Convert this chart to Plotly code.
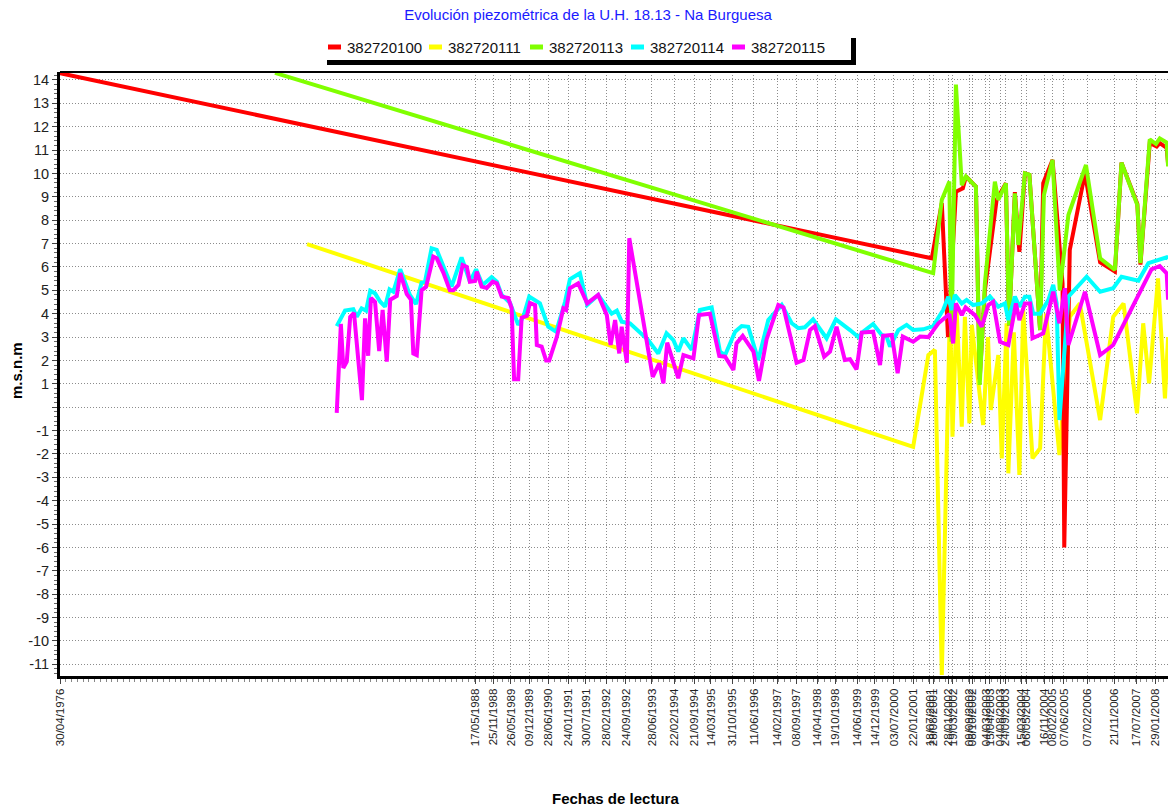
import pandas as pd
import plotly.graph_objects as go

# Niveles piezométricos (m.s.n.m); fechas en años decimales
t_100 = [1976.33, 2001.60, 2001.89, 2002.07, 2002.30, 2002.50, 2002.59, 2002.88, 2002.99,
         2003.14, 2003.48, 2003.75, 2003.84, 2004.01, 2004.14, 2004.30, 2004.43, 2004.74,
         2004.83, 2005.10, 2005.39, 2005.44, 2005.60, 2006.04, 2006.48, 2006.91, 2007.10,
         2007.56, 2007.65, 2007.92, 2008.12, 2008.21, 2008.41, 2008.45]
v_100 = [14.29, 6.37, 8.73, 3.0, 9.22, 9.36, 9.87, 9.44, 1.2,
         5.0, 8.87, 9.58, 3.5, 9.2, 6.65, 10.0, 9.94, 3.3,
         9.58, 10.58, 5.3, -6.0, 6.73, 10.0, 6.2, 5.8, 10.46,
         8.7, 6.1, 11.3, 11.15, 11.3, 11.1, 10.4]

t_111 = [1983.49, 2001.06, 2001.50, 2001.69, 2001.89, 2002.13, 2002.20, 2002.32, 2002.47,
         2002.56, 2002.69, 2002.76, 2003.09, 2003.23, 2003.31, 2003.53, 2003.63, 2003.77,
         2003.82, 2003.98, 2004.14, 2004.25, 2004.52, 2004.74, 2004.91, 2005.30, 2005.60,
         2005.89, 2006.48, 2006.86, 2007.16, 2007.55, 2007.73, 2007.90, 2008.16, 2008.36,
         2008.45]
v_111 = [6.98, -1.7, 2.23, 2.45, -11.46, 4.44, -1.26, 4.16, -0.83,
         3.87, -0.69, 3.52, -0.76, 3.0, -0.12, 2.23, -2.19, 3.59,
         -2.83, 3.2, -2.9, 4.16, -2.19, -1.76, 4.0, -2.05, 3.87,
         4.44, -0.55, 3.87, 4.44, -0.26, 3.59, 1.02, 5.51, 0.38,
         3.0]

t_113 = [1982.56, 2001.64, 2001.89, 2002.11, 2002.17, 2002.30, 2002.47, 2002.59, 2002.88,
         2002.99, 2003.14, 2003.43, 2003.53, 2003.75, 2003.84, 2004.01, 2004.11, 2004.30,
         2004.43, 2004.74, 2004.85, 2005.10, 2005.31, 2005.56, 2006.07, 2006.48, 2006.91,
         2007.10, 2007.56, 2007.65, 2007.92, 2008.10, 2008.21, 2008.41, 2008.45]
v_113 = [14.3, 5.73, 8.87, 9.65, 2.8, 13.8, 9.5, 9.87, 9.44,
         0.95, 5.3, 9.65, 8.87, 9.58, 3.5, 9.15, 6.94, 10.0,
         9.94, 3.3, 9.08, 10.58, 5.0, 8.22, 10.36, 6.37, 5.87,
         10.46, 8.65, 6.16, 11.46, 11.26, 11.5, 11.32, 10.3]

t_114 = [1984.35, 1984.45, 1984.59, 1984.83, 1984.93, 1985.07, 1985.20, 1985.32, 1985.46,
         1985.61, 1985.75, 1985.88, 1985.99, 1986.19, 1986.33, 1986.47, 1986.65, 1986.81,
         1986.91, 1987.10, 1987.25, 1987.44, 1987.68, 1987.97, 1988.21, 1988.39, 1988.58,
         1988.84, 1988.99, 1989.13, 1989.37, 1989.61, 1989.76, 1989.93, 1990.24, 1990.48,
         1990.71, 1990.97, 1991.11, 1991.40, 1991.61, 1991.93, 1992.32, 1992.47, 1992.61,
         1992.85, 1993.38, 1993.67, 1993.91, 1994.11, 1994.25, 1994.40, 1994.64, 1994.88,
         1995.22, 1995.46, 1995.61, 1995.90, 1996.09, 1996.28, 1996.57, 1996.86, 1997.25,
         1997.54, 1997.73, 1997.92, 1998.16, 1998.55, 1998.82, 1999.23, 1999.47, 1999.61,
         1999.90, 2000.15, 2000.29, 2000.39, 2000.63, 2000.87, 2001.06, 2001.35, 2001.64,
         2001.93, 2002.08, 2002.17, 2002.27, 2002.47, 2002.61, 2002.80, 2003.05, 2003.29,
         2003.53, 2003.72, 2003.82, 2004.01, 2004.14, 2004.30, 2004.43, 2004.54, 2004.74,
         2004.98, 2005.12, 2005.22, 2005.30, 2005.56, 2006.09, 2006.48, 2006.86, 2007.10,
         2007.59, 2007.88, 2008.16, 2008.41, 2008.45]
v_114 = [3.47, 3.73, 4.13, 4.19, 3.87, 4.23, 4.13, 4.98, 4.87,
         4.51, 4.3, 5.04, 4.94, 5.9, 5.3, 4.8, 4.41, 5.33,
         5.37, 6.8, 6.73, 6.08, 5.16, 6.41, 5.37, 5.9, 5.23,
         5.56, 5.37, 4.8, 4.47, 3.52, 3.87, 4.73, 4.44, 3.44,
         3.23, 4.51, 5.47, 5.73, 4.37, 4.8, 4.0, 4.13, 3.66,
         3.59, 2.87, 2.3, 3.16, 2.87, 2.38, 2.95, 2.45, 4.16,
         4.27, 2.38, 2.23, 3.23, 3.47, 3.44, 2.02, 3.73, 4.37,
         3.59, 3.38, 3.42, 3.76, 2.95, 3.76, 3.3, 3.0, 3.23,
         3.56, 3.09, 3.02, 2.59, 3.3, 3.52, 3.3, 3.33, 3.47,
         4.16, 4.73, 4.16, 4.8, 4.44, 4.59, 4.37, 4.44, 4.73,
         4.3, 4.44, 3.73, 4.73, 4.3, 4.73, 4.73, 4.0, 4.0,
         4.59, 5.23, 4.44, -0.55, 4.73, 5.58, 4.94, 5.09, 5.58,
         5.41, 6.16, 6.3, 6.41, 6.35]

t_115 = [1984.35, 1984.47, 1984.54, 1984.64, 1984.74, 1984.85, 1985.08, 1985.17, 1985.26,
         1985.34, 1985.46, 1985.58, 1985.68, 1985.80, 1985.90, 1986.09, 1986.19, 1986.38,
         1986.50, 1986.57, 1986.67, 1986.81, 1986.94, 1987.06, 1987.15, 1987.25, 1987.44,
         1987.63, 1987.73, 1987.88, 1988.00, 1988.12, 1988.21, 1988.36, 1988.41, 1988.55,
         1988.70, 1988.87, 1988.99, 1989.13, 1989.32, 1989.42, 1989.49, 1989.61, 1989.71,
         1989.86, 1989.95, 1990.10, 1990.15, 1990.29, 1990.42, 1990.51, 1990.73, 1990.92,
         1991.00, 1991.11, 1991.35, 1991.61, 1991.93, 1992.18, 1992.29, 1992.42, 1992.54,
         1992.61, 1992.76, 1992.83, 1993.51, 1993.70, 1993.82, 1993.93, 1994.25, 1994.40,
         1994.69, 1994.85, 1995.17, 1995.44, 1995.61, 1995.85, 1995.94, 1996.12, 1996.43,
         1996.59, 1996.81, 1997.15, 1997.30, 1997.68, 1997.88, 1998.07, 1998.21, 1998.48,
         1998.65, 1998.84, 1999.08, 1999.23, 1999.42, 1999.57, 1999.90, 2000.10, 2000.19,
         2000.44, 2000.61, 2000.76, 2001.06, 2001.26, 2001.50, 2001.79, 2002.11, 2002.22,
         2002.30, 2002.47, 2002.58, 2002.85, 2003.05, 2003.24, 2003.38, 2003.58, 2003.82,
         2004.04, 2004.14, 2004.30, 2004.45, 2004.52, 2004.83, 2005.12, 2005.30, 2005.46,
         2005.56, 2006.04, 2006.48, 2006.86, 2007.59, 2007.97, 2008.21, 2008.41, 2008.45]
v_115 = [-0.24, 3.56, 1.68, 1.95, 3.86, 4.03, 0.3, 3.8, 2.2,
         4.67, 4.5, 2.4, 4.16, 1.95, 4.6, 4.76, 5.74, 4.84,
         4.6, 2.3, 2.23, 5.0, 5.15, 6.0, 6.44, 6.37, 5.76,
         5.0, 5.0, 5.23, 6.08, 6.0, 5.37, 5.4, 5.8, 5.16,
         5.1, 5.37, 5.3, 4.73, 4.67, 4.24, 1.2, 1.2, 3.83,
         3.9, 4.46, 4.37, 2.66, 2.59, 2.0, 2.0, 3.0, 4.23,
         4.16, 5.09, 5.3, 4.44, 4.8, 3.94, 2.66, 3.73, 2.3,
         3.44, 1.9, 7.23, 1.3, 1.88, 1.02, 2.76, 1.24, 2.23,
         2.09, 3.94, 4.0, 2.19, 2.16, 1.59, 2.73, 3.05, 2.38,
         1.13, 2.9, 4.37, 4.27, 1.9, 2.02, 3.3, 3.47, 2.16,
         2.38, 3.44, 2.02, 2.05, 1.62, 3.19, 3.23, 1.8, 3.05,
         3.09, 1.45, 3.02, 2.8, 3.02, 3.0, 3.59, 3.99, 2.73,
         4.44, 3.94, 4.27, 3.94, 3.44, 4.37, 4.51, 2.8, 2.66,
         4.44, 3.73, 4.44, 4.44, 2.95, 3.16, 4.94, 3.59, 5.09,
         2.66, 4.94, 2.23, 2.66, 4.8, 5.9, 6.04, 5.73, 4.6]

# Fechas rotuladas en el eje X
tick_labels = ["30/04/1976", "17/05/1988", "25/11/1988", "26/05/1989", "09/12/1989",
               "28/06/1990", "24/01/1991", "30/07/1991", "28/02/1992", "24/09/1992",
               "28/06/1993", "22/02/1994", "21/09/1994", "14/03/1995", "31/10/1995",
               "11/06/1996", "14/02/1997", "08/09/1997", "14/04/1998", "19/10/1998",
               "14/06/1999", "14/12/1999", "03/07/2000", "22/01/2001", "18/07/2001",
               "28/08/2001", "28/01/2002", "19/03/2002", "09/09/2002", "08/10/2002",
               "04/03/2003", "15/04/2003", "04/08/2003", "24/09/2003", "15/03/2004",
               "06/05/2004", "16/11/2004", "08/02/2005", "07/06/2005", "07/02/2006",
               "21/11/2006", "17/07/2007", "29/01/2008"]

y_ticks = [14, 13, 12, 11, 10, 9, 8, 7, 6, 5, 4, 3, 2, 1, 0, -1, -2, -3, -4, -5,
           -6, -7, -8, -9, -10, -11]


def to_date(years):
    out = []
    for y in years:
        base = pd.Timestamp(int(y), 1, 1)
        ndays = (pd.Timestamp(int(y) + 1, 1, 1) - base).days
        out.append(base + pd.Timedelta(days=(y - int(y)) * ndays))
    return out


W, H = 1169, 807
ML, MR, MT, MB = 60, 1, 72, 131
PW, PH = W - ML - MR, H - MT - MB


def px(x):  # pixel -> paper x
    return (x - ML) / PW


def py(y):  # pixel -> paper y
    return (H - MB - y) / PH


series = [  # (nombre, fechas, valores, color, posición en la leyenda)
    ("382720111", t_111, v_111, "#FFFF00", 1),
    ("382720100", t_100, v_100, "#FF0000", 0),
    ("382720113", t_113, v_113, "#80FF00", 2),
    ("382720114", t_114, v_114, "#00FFFF", 3),
    ("382720115", t_115, v_115, "#FF00FF", 4),
]

fig = go.Figure()
shapes = []
annotations = []
for name, t, v, col, pos in series:
    fig.add_trace(go.Scatter(
        x=to_date(t), y=v, name=name, mode="lines",
        line=dict(color=col, width=4), showlegend=False,
    ))
    # leyenda dibujada a mano (trazo corto + texto)
    x0 = 328 + 101 * pos
    shapes.append(dict(type="line", xref="paper", yref="paper",
                       x0=px(x0), x1=px(x0 + 13), y0=py(47), y1=py(47),
                       line=dict(color=col, width=5)))
    annotations.append(dict(text=name, xref="paper", yref="paper",
                            x=px(x0 + 17), y=py(47), xanchor="left", yanchor="middle",
                            showarrow=False, font=dict(size=15, color="#111")))

tick_dates = pd.to_datetime(tick_labels, format="%d/%m/%Y")

shapes += [
    # borde superior del área de trazado
    dict(type="line", xref="paper", yref="paper", x0=0, x1=1, y0=1, y1=1,
         line=dict(color="black", width=2)),
    # sombra del recuadro de la leyenda
    dict(type="line", xref="paper", yref="paper",
         x0=px(327), x1=px(856), y0=py(62.5), y1=py(62.5),
         line=dict(color="black", width=5)),
    dict(type="line", xref="paper", yref="paper",
         x0=px(853.5), x1=px(853.5), y0=py(38), y1=py(62.5),
         line=dict(color="black", width=5)),
]

annotations += [
    dict(text="<b>Fechas de lectura</b>", xref="paper", yref="paper",
         x=px(615), y=py(798), xanchor="center", yanchor="middle",
         showarrow=False, font=dict(size=15)),
    dict(text="<b>m.s.n.m</b>", xref="paper", yref="paper",
         x=px(16), y=py(371), xanchor="center", yanchor="middle",
         textangle=-90, showarrow=False, font=dict(size=15)),
]

fig.update_layout(
    width=W, height=H,
    margin=dict(l=ML, r=MR, t=MT, b=MB),
    paper_bgcolor="white", plot_bgcolor="white",
    font=dict(family="Liberation Sans, Arial, sans-serif", color="black"),
    title=dict(text="Evolución piezométrica de la U.H. 18.13 - Na Burguesa",
               font=dict(size=15, color="#1a1aff"),
               x=px(588), xanchor="center", xref="paper",
               y=1 - 15 / H, yanchor="middle"),
    showlegend=False,
    xaxis=dict(
        type="date", range=["1976-04-30", "2008-06-13"],
        tickvals=tick_dates, ticktext=tick_labels, tickangle=-90,
        tickfont=dict(size=11.5, color="#222"),
        showgrid=True, gridcolor="#8c8c8c", griddash="1px,2px", gridwidth=1,
        showline=True, linecolor="black", linewidth=3,
        ticks="outside", ticklen=5, tickcolor="#444",
        minor=dict(dtick="M2", ticks="outside", ticklen=3, tickcolor="#888",
                   showgrid=False),
        zeroline=False,
    ),
    yaxis=dict(
        range=[-11.5, 14.34],
        tickvals=y_ticks, ticktext=[("" if t == 0 else str(t)) for t in y_ticks],
        tickfont=dict(size=14.5, color="#222"),
        showgrid=True, gridcolor="#8c8c8c", griddash="1px,2px", gridwidth=1,
        showline=True, linecolor="black", linewidth=3,
        ticks="outside", ticklen=5, tickcolor="#444",
        minor=dict(dtick=0.2, ticks="outside", ticklen=3, tickcolor="#666",
                   showgrid=False),
        zeroline=False,
    ),
    shapes=shapes,
    annotations=annotations,
)

fig.write_html("out.html", config={"displayModeBar": False},
               post_script="document.body.style.margin='0px';"
                           "document.body.style.overflow='hidden';")
